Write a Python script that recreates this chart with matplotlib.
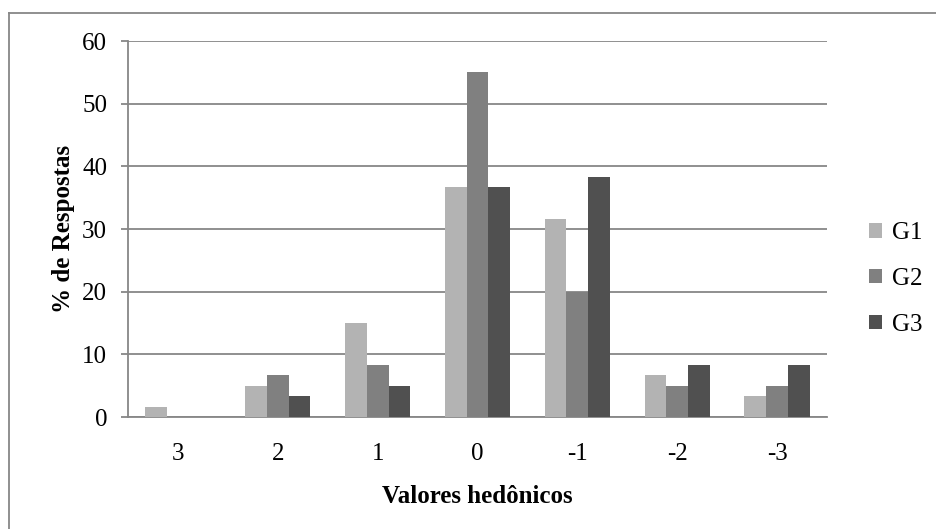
import numpy as np
import matplotlib.pyplot as plt
from matplotlib.lines import Line2D

# hedonic scale categories and % of responses per group
categorias = ["3", "2", "1", "0", "-1", "-2", "-3"]
g1 = [1.67, 5.0, 15.0, 36.67, 31.67, 6.67, 3.33]
g2 = [0.0, 6.67, 8.33, 55.0, 20.0, 5.0, 5.0]
g3 = [0.0, 3.33, 5.0, 36.67, 38.33, 8.33, 8.33]
grupos = ["G1", "G2", "G3"]

plt.rcParams["font.family"] = ["Liberation Serif", "DejaVu Serif"]

fig = plt.figure(figsize=(9.36, 5.29), dpi=100)
ax = fig.add_axes([128 / 936, 1 - 417 / 529, 699 / 936, 376 / 529])

x = np.arange(len(categorias))
w = 0.218
cores = ["#b3b3b3", "#808080", "#505050"]
for i, (vals, nome) in enumerate(zip([g1, g2, g3], grupos)):
    ax.bar(x + (i - 1) * w, vals, w, color=cores[i], label=nome, zorder=3)

ax.set_xlim(-0.5, len(categorias) - 0.5)
ax.set_ylim(0, 60)
ax.set_yticks(range(0, 61, 10))
ax.set_xticks(x)
ax.set_xticklabels(categorias)
ax.grid(axis="y", color="#878787", linewidth=1.3, zorder=0)
for s in ["top", "right"]:
    ax.spines[s].set_visible(False)
for s in ["left", "bottom"]:
    ax.spines[s].set_color("#878787")
    ax.spines[s].set_linewidth(1.3)
ax.tick_params(axis="y", length=5, width=1.3, color="#878787", labelsize=18, pad=10)
ax.tick_params(axis="x", length=0, labelsize=18, pad=19)

ax.set_xlabel("Valores hedônicos", fontsize=18, fontweight="bold", labelpad=14)
ax.set_ylabel("% de Respostas", fontsize=18, fontweight="bold", labelpad=5)

ax.legend(loc="center left", bbox_to_anchor=(1.046, 0.367), frameon=False,
          fontsize=18, handlelength=0.5, handleheight=0.5, labelspacing=0.95,
          handletextpad=0.4, borderaxespad=0)

# chart area border (top and left edges visible)
fig.add_artist(Line2D([9 / 936, 9 / 936], [0, 1 - 13 / 529], transform=fig.transFigure,
                      color="#878787", linewidth=1.3))
fig.add_artist(Line2D([9 / 936, 1], [1 - 13 / 529, 1 - 13 / 529], transform=fig.transFigure,
                      color="#878787", linewidth=1.3))

fig.savefig("out.png", dpi=100)
